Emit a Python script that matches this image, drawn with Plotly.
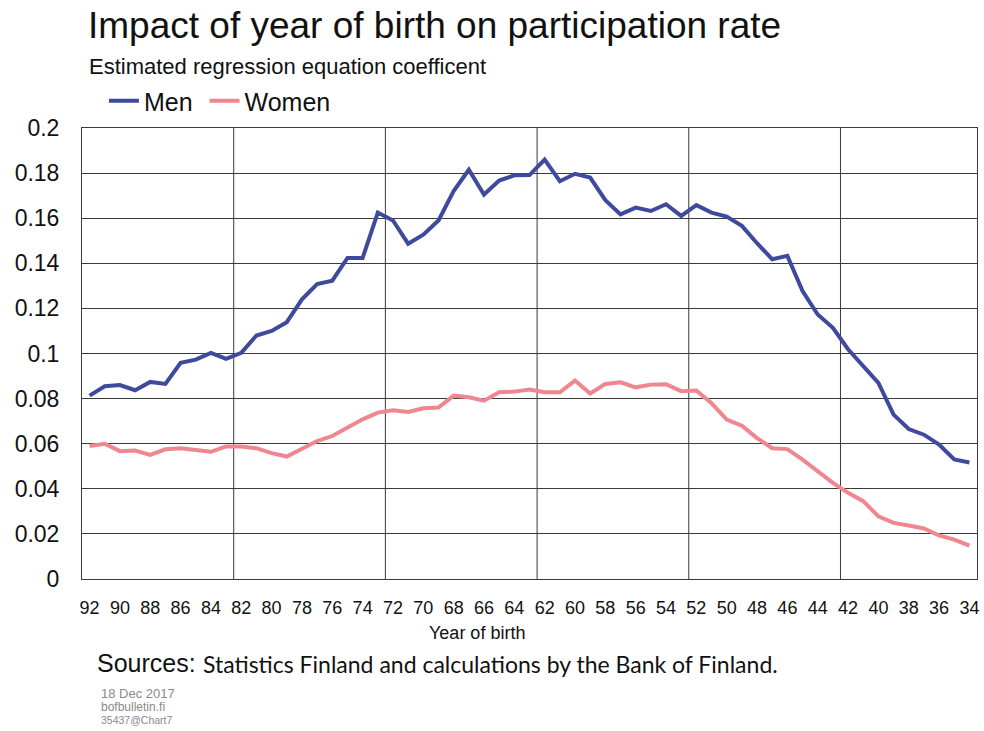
import plotly.graph_objects as go

years = list(range(92, 33, -1))
men = [0.0813, 0.0855, 0.0860, 0.0837, 0.0874, 0.0865, 0.0959, 0.0973, 0.1003, 0.0976,
       0.1003, 0.1080, 0.1100, 0.1139, 0.1240, 0.1308, 0.1323, 0.1424, 0.1424, 0.1625,
       0.1590, 0.1487, 0.1527, 0.1590, 0.1720, 0.1815, 0.1705, 0.1767, 0.1790, 0.1791,
       0.1860, 0.1764, 0.1797, 0.1780, 0.1680, 0.1617, 0.1647, 0.1632, 0.1662, 0.1610,
       0.1658, 0.1625, 0.1607, 0.1566, 0.1489, 0.1418, 0.1433, 0.1277, 0.1173, 0.1114,
       0.1019, 0.0944, 0.0870, 0.0729, 0.0665, 0.0640, 0.0596, 0.0530, 0.0517]
women = [0.0590, 0.0600, 0.0567, 0.0570, 0.0550, 0.0575, 0.0580, 0.0572, 0.0564, 0.0588,
         0.0588, 0.0580, 0.0558, 0.0543, 0.0578, 0.0612, 0.0634, 0.0671, 0.0708, 0.0738,
         0.0748, 0.0741, 0.0757, 0.0760, 0.0813, 0.0806, 0.0791, 0.0828, 0.0831, 0.0840,
         0.0828, 0.0828, 0.0880, 0.0823, 0.0865, 0.0872, 0.0850, 0.0862, 0.0864, 0.0833,
         0.0836, 0.0780, 0.0707, 0.0680, 0.0625, 0.0580, 0.0576, 0.0529, 0.0477, 0.0426,
         0.0382, 0.0345, 0.0278, 0.0249, 0.0237, 0.0224, 0.0193, 0.0175, 0.0148]
x_tick_vals = list(range(92, 33, -2))
x_tick_text = [str(v) for v in x_tick_vals]
y_tick_vals = [0, 0.02, 0.04, 0.06, 0.08, 0.10, 0.12, 0.14, 0.16, 0.18, 0.20]
y_tick_text = ["0", "0.02", "0.04", "0.06", "0.08", "0.1", "0.12", "0.14", "0.16", "0.18", "0.2"]
v_grid_years = [82.5, 72.5, 62.5, 52.5, 42.5]

title = "Impact of year of birth on participation rate"
subtitle = "Estimated regression equation coefficent"
sources_label = "Sources:"
sources_text = "Statistics Finland and calculations by the Bank of Finland."
foot = ["18 Dec 2017", "bofbulletin.fi", "35437@Chart7"]

FONT = "Liberation Sans, Arial, sans-serif"
GRID = "#3a3a3a"

fig = go.Figure()
fig.add_trace(go.Scatter(x=years, y=men, mode="lines", name="Men\u00a0",
                         line=dict(color="#3f4a9f", width=4)))
fig.add_trace(go.Scatter(x=years, y=women, mode="lines", name="Women",
                         line=dict(color="#ef8690", width=4)))

for gx in v_grid_years:
    fig.add_shape(type="line", xref="x", yref="paper", x0=gx, x1=gx, y0=0, y1=1,
                  line=dict(color=GRID, width=1), layer="below")

L, R, T, B = 82, 5, 128, 152
W, H = 984, 731
pw, ph = W - L - R, H - T - B

def px(x):
    return (x - L) / pw

def py(y):
    return (H - B - y) / ph

ann = [
    dict(text=title, x=px(86), y=py(25), xanchor="left", yanchor="middle",
         font=dict(size=37, color="#111", family=FONT)),
    dict(text=subtitle, x=px(87), y=py(66), xanchor="left", yanchor="middle",
         font=dict(size=22, color="#111", family=FONT)),
    dict(text="Year of birth", x=px(478), y=py(633), xanchor="center", yanchor="middle",
         font=dict(size=18, color="#111", family=FONT)),
    dict(text=sources_label, x=px(95), y=py(663), xanchor="left", yanchor="middle",
         font=dict(size=25, color="#111", family=FONT)),
    dict(text=sources_text, x=px(201), y=py(664), xanchor="left", yanchor="middle",
         font=dict(size=23, color="#111", family="Lato, sans-serif")),
    dict(text=foot[0], x=px(99), y=py(693), xanchor="left", yanchor="middle",
         font=dict(size=13, color="#8a8a8a", family=FONT)),
    dict(text=foot[1], x=px(99), y=py(707), xanchor="left", yanchor="middle",
         font=dict(size=12, color="#8a8a8a", family=FONT)),
    dict(text=foot[2], x=px(99), y=py(720), xanchor="left", yanchor="middle",
         font=dict(size=10.5, color="#8a8a8a", family=FONT)),
]
for a in ann:
    a.update(xref="paper", yref="paper", showarrow=False)

fig.update_layout(
    width=W, height=H,
    margin=dict(l=L, r=R, t=T, b=B),
    paper_bgcolor="white", plot_bgcolor="white",
    font=dict(family=FONT, color="#111"),
    showlegend=True,
    legend=dict(orientation="h", x=px(104), y=py(101), xanchor="left", yanchor="middle",
                font=dict(size=25, family=FONT, color="#111"),
                bgcolor="rgba(0,0,0,0)", itemwidth=30, tracegroupgap=0),
    annotations=ann,
    xaxis=dict(range=[92.5, 33.5], tickvals=x_tick_vals, ticktext=x_tick_text,
               showgrid=False, zeroline=False, showline=True, linecolor=GRID,
               linewidth=1, mirror=True, ticks="", ticklabelstandoff=12,
               tickfont=dict(size=18, family=FONT, color="#111")),
    yaxis=dict(range=[0, 0.2], tickvals=y_tick_vals, ticktext=y_tick_text,
               showgrid=True, gridcolor=GRID, gridwidth=1, zeroline=False,
               showline=True, linecolor=GRID, linewidth=1, mirror=True, ticks="",
               ticklabelstandoff=17,
               tickfont=dict(size=23, family=FONT, color="#111")),
)

fig.write_html("out.html", config={"displayModeBar": False},
               post_script="document.body.style.margin='0px';")
